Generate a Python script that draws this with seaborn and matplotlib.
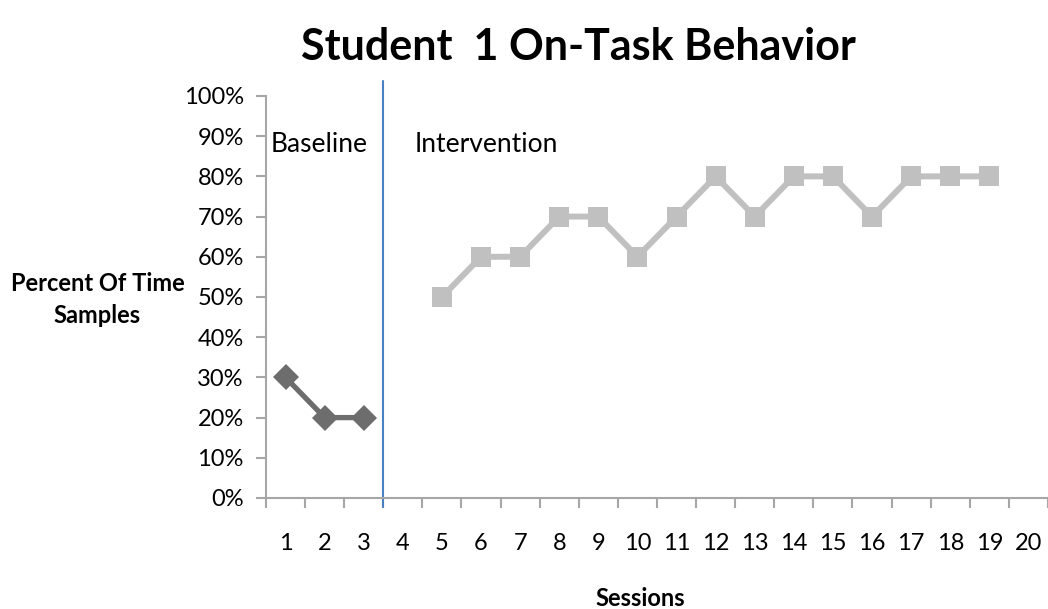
import matplotlib
matplotlib.use('Agg')
import matplotlib.pyplot as plt
import seaborn as sns
import pandas as pd

# Data
base_sessions = [1, 2, 3]
base_values = [30, 20, 20]
int_sessions = [5, 6, 7, 8, 9, 10, 11, 12, 13, 14, 15, 16, 17, 18, 19]
int_values = [50, 60, 60, 70, 70, 60, 70, 80, 70, 80, 80, 70, 80, 80, 80]
session_labels = [str(i) for i in range(1, 21)]
y_ticks = [0, 10, 20, 30, 40, 50, 60, 70, 80, 90, 100]
phase_change = 3.5

sns.set_style("white")
plt.rcParams['font.family'] = ['Lato', 'DejaVu Sans']
plt.rcParams['text.color'] = 'black'
plt.rcParams['xtick.color'] = 'black'
plt.rcParams['ytick.color'] = 'black'

fig = plt.figure(figsize=(10.48, 6.09), dpi=100)
ax = fig.add_axes([0.2538, 0.1823, 0.7462, 0.6601])

df_b = pd.DataFrame({'Session': base_sessions, 'Value': base_values})
df_i = pd.DataFrame({'Session': int_sessions, 'Value': int_values})

sns.lineplot(data=df_b, x='Session', y='Value', ax=ax, color='#6d6d6d',
             marker='D', markersize=13, linewidth=3.8, markeredgewidth=0)
sns.lineplot(data=df_i, x='Session', y='Value', ax=ax, color='#c0c0c0',
             marker='s', markersize=14.5, linewidth=4.3, markeredgewidth=0)

ax.set_xlim(0.5, 20.5)
ax.set_ylim(0, 100)

# y ticks
ax.set_yticks(y_ticks)
ax.set_yticklabels([f"{v}%" for v in y_ticks], fontsize=17)
# x ticks: marks at boundaries, labels at centers
ax.set_xticks([i + 0.5 for i in range(0, 21)])
ax.set_xticklabels([])
ax.set_xticks(list(range(1, 21)), minor=True)
ax.set_xticklabels(session_labels, minor=True, fontsize=17)
ax.tick_params(axis='x', which='major', direction='out', length=7, width=1.5, color='#a6a6a6', bottom=True)
ax.tick_params(axis='x', which='minor', length=0, pad=25, bottom=True)
ax.tick_params(axis='y', direction='out', length=7, width=1.5, color='#a6a6a6', left=True, pad=9)

for s in ['top', 'right']:
    ax.spines[s].set_visible(False)
for s in ['left', 'bottom']:
    ax.spines[s].set_color('#a6a6a6')
    ax.spines[s].set_linewidth(1.5)

ax.set_xlabel('')
ax.set_ylabel('')

ax.axvline(phase_change, ymin=-0.022, ymax=1.037, color='#4a7fc1', linewidth=1.5, clip_on=False)

ax.text(0.62, 88, 'Baseline', fontsize=19, ha='left', va='center')
ax.text(4.3, 88, 'Intervention', fontsize=19, ha='left', va='center')

fig.text(0.552, 0.923, 'Student  1 On-Task Behavior', fontsize=31, fontweight='bold', ha='center', va='center')
fig.text(0.093, 0.508, 'Percent Of Time\nSamples', fontsize=17, fontweight='bold', ha='center', va='center', linespacing=1.5)
fig.text(0.611, 0.018, 'Sessions', fontsize=17, fontweight='bold', ha='center', va='center')

fig.savefig('out.png', dpi=100)
